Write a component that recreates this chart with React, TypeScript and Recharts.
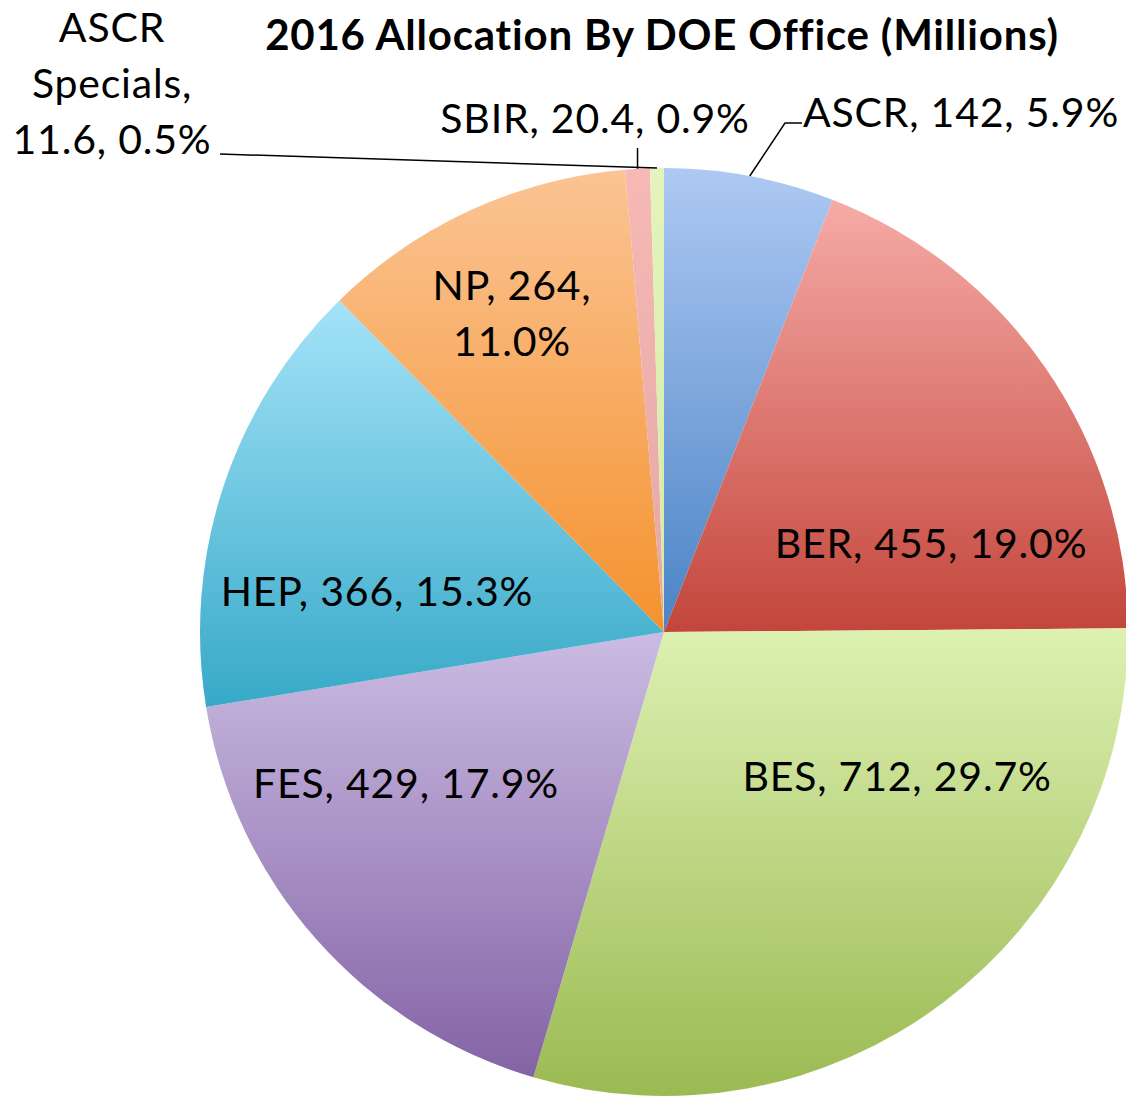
import { Cell, Pie, PieChart } from "recharts";

const offices = ["ASCR", "BER", "BES", "FES", "HEP", "NP", "SBIR", "ASCR Specials"];
const allocations = [142, 455, 712, 429, 366, 264, 20.4, 11.6];

const gradientTop = ["#aec9f3", "#f6aba7", "#ddf1b2", "#cbbce3", "#a4e3f8", "#fbc494", "#f6b9b6", "#e4f4bc"];
const gradientBottom = ["#4a83c5", "#c3453b", "#9bba52", "#8363a5", "#37a9c8", "#f4922e", "#e5a6a4", "#d5eaa4"];

// label placement, relative to pie centre; lines = how the text wraps
const labelLayout = [
  { dx: 297, dy: -505, lines: 1, leader: "elbow" },
  { dx: 267, dy: -74, lines: 1 },
  { dx: 233, dy: 159, lines: 1 },
  { dx: -258, dy: 166, lines: 1 },
  { dx: -287, dy: -26, lines: 1 },
  { dx: -152, dy: -332, lines: 2 },
  { dx: -69, dy: -499, lines: 1, leader: "vertical" },
  { dx: -552, dy: -590, lines: 3, leader: "long" },
];

const total = allocations.reduce((a, b) => a + b, 0);
const data = offices.map((name, i) => ({ name, value: allocations[i] }));

const FONT = "Lato, 'Open Sans', sans-serif";
const RADIAN = Math.PI / 180;
const LINE_H = 56;

function SliceLabel(props: any) {
  const { cx, cy, midAngle, outerRadius, index, name, value } = props;
  const lay = labelLayout[index];
  const pct = (Math.round((value * 1000) / total) / 10).toFixed(1) + "%";
  let rows: string[];
  if (lay.lines === 3) {
    const words = name.split(" ");
    rows = [...words.slice(0, -1), words[words.length - 1] + ",", `${value}, ${pct}`];
  } else if (lay.lines === 2) {
    rows = [`${name}, ${value},`, pct];
  } else {
    rows = [`${name}, ${value}, ${pct}`];
  }
  const tx = cx + lay.dx;
  const ty = cy + lay.dy;
  const ex = cx + outerRadius * Math.cos(-midAngle * RADIAN);
  const ey = cy + outerRadius * Math.sin(-midAngle * RADIAN);

  let leader = null;
  if (lay.leader === "elbow") {
    const lx = tx - 159;
    const ly = ty - 4;
    leader = <polyline points={`${ex},${ey} ${lx - 17},${ly} ${lx},${ly}`} fill="none" stroke="#000" strokeWidth={1.5} />;
  } else if (lay.leader === "vertical") {
    leader = <line x1={ex} y1={ey} x2={ex} y2={ty + 15} stroke="#000" strokeWidth={1.5} />;
  } else if (lay.leader === "long") {
    const ly = ty + (rows.length - 1) * LINE_H;
    leader = <line x1={ex} y1={ey} x2={tx + 108} y2={ly} stroke="#000" strokeWidth={1.5} />;
  }

  return (
    <g>
      {leader}
      <text x={tx} y={ty} textAnchor="middle" fontFamily={FONT} fontSize={41} letterSpacing={0.8} fill="#000">
        {rows.map((r, k) => (
          <tspan key={k} x={tx} dy={k === 0 ? 0 : LINE_H}>
            {r}
          </tspan>
        ))}
      </text>
    </g>
  );
}

export default function App() {
  return (
    <div style={{ position: "absolute", left: 0, top: 0, width: 1126, height: 1097, background: "#fff" }}>
      <PieChart width={1126} height={1097} margin={{ top: 0, right: 0, bottom: 0, left: 0 }}>
        <defs>
          {offices.map((o, i) => (
            <linearGradient key={o} id={`slice-${i}`} x1="0" y1="0" x2="0" y2="1">
              <stop offset="0%" stopColor={gradientTop[i]} />
              <stop offset="100%" stopColor={gradientBottom[i]} />
            </linearGradient>
          ))}
        </defs>
        <text x={662} y={50} textAnchor="middle" fontFamily={FONT} fontWeight="bold" fontSize={42} letterSpacing={0.8} fill="#000">
          2016 Allocation By DOE Office (Millions)
        </text>
        <Pie
          data={data}
          dataKey="value"
          nameKey="name"
          cx={664}
          cy={632}
          outerRadius={464}
          startAngle={90}
          endAngle={-270}
          stroke="none"
          label={SliceLabel}
          labelLine={false}
          isAnimationActive={false}
        >
          {data.map((d, i) => (
            <Cell key={d.name} fill={`url(#slice-${i})`} />
          ))}
        </Pie>
      </PieChart>
    </div>
  );
}
